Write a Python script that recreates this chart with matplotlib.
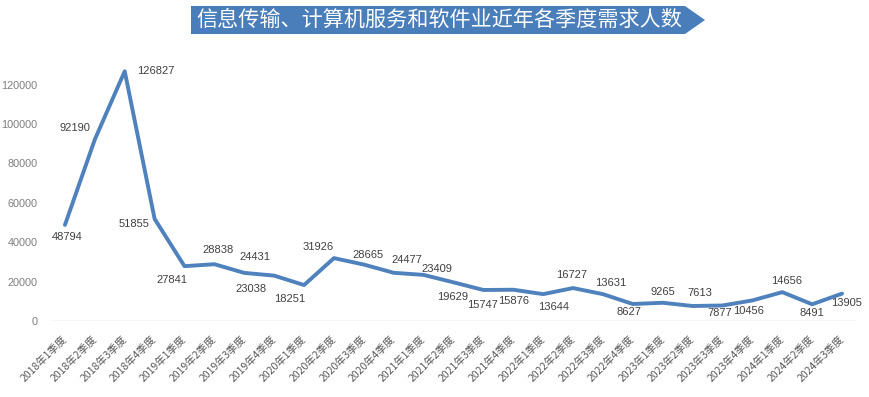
import matplotlib
matplotlib.use('Agg')
import matplotlib.pyplot as plt
from matplotlib.patches import Polygon

plt.rcParams['font.family'] = ['Noto Sans CJK SC', 'DejaVu Sans']

TITLE = '信息传输、计算机服务和软件业近年各季度需求人数'

quarters = [
    '2018年1季度', '2018年2季度', '2018年3季度', '2018年4季度',
    '2019年1季度', '2019年2季度', '2019年3季度', '2019年4季度',
    '2020年1季度', '2020年2季度', '2020年3季度', '2020年4季度',
    '2021年1季度', '2021年2季度', '2021年3季度', '2021年4季度',
    '2022年1季度', '2022年2季度', '2022年3季度', '2022年4季度',
    '2023年1季度', '2023年2季度', '2023年3季度', '2023年4季度',
    '2024年1季度', '2024年2季度', '2024年3季度',
]
demand = [
    48794, 92190, 126827, 51855,
    27841, 28838, 24431, 23038,
    18251, 31926, 28665, 24477,
    23409, 19629, 15747, 15876,
    13644, 16727, 13631, 8627,
    9265, 7613, 7877, 10456,
    14656, 8491, 13905,
]
y_ticks = [0, 20000, 40000, 60000, 80000, 100000, 120000]

# label offsets from each point, in pixels (dx right, dy up)
label_offsets = [
    (2, -12), (-20, 11), (31, 0), (-21, -5),
    (-13, -14), (4, 14), (11, 16), (-23, -13),
    (-14, -14), (-16, 11), (4, 10), (13, 13),
    (13, 6), (-1, -15), (-1, -15), (0, -11),
    (10, -13), (-1, 13), (8, 11), (-4, -8),
    (0, 11), (7, 13), (-3, -8), (-4, -11),
    (4, 11), (0, -9), (4, -9),
]

W, H = 870, 397
fig = plt.figure(figsize=(W / 100, H / 100), dpi=100)
ax = fig.add_axes([50 / W, 1 - 321 / H, 807 / W, (321 - 65) / H])

x = list(range(len(demand)))
ax.plot(x, demand, color='#4f81bd', linewidth=2.8, solid_joinstyle='round',
        solid_capstyle='round', zorder=3)

for xi, v, (dx, dy) in zip(x, demand, label_offsets):
    ax.annotate(str(v), xy=(xi, v), xytext=(dx, dy), textcoords='offset pixels',
                ha='center', va='center', fontsize=8, color='#404040',
                family=['Liberation Sans', 'DejaVu Sans'])

ax.set_xlim(-0.5, len(demand) - 0.5)
ax.set_ylim(0, 130000)
ax.set_yticks(y_ticks)
ax.set_yticklabels([str(t) for t in y_ticks], color='#7f7f7f', fontsize=7.8,
                   family=['Liberation Sans', 'DejaVu Sans'])
ax.set_xticks(x)
ax.set_xticklabels(quarters, rotation=45, ha='right', va='center',
                   rotation_mode='anchor', fontsize=7.5, color='#595959')
ax.tick_params(axis='both', length=0)
ax.tick_params(axis='x', pad=12)
ax.tick_params(axis='y', pad=9)
for s in ax.spines.values():
    s.set_visible(False)
ax.axhline(0, color='#d9d9d9', linewidth=1.0, zorder=1)

# title banner shaped like an arrow
banner = Polygon([(191 / W, 1 - 6 / H), (685 / W, 1 - 6 / H), (705 / W, 1 - 20 / H),
                  (685 / W, 1 - 34 / H), (191 / W, 1 - 34 / H)],
                 closed=True, transform=fig.transFigure, facecolor='#4a7ebb',
                 edgecolor='none')
fig.patches.append(banner)
fig.text(439 / W, 1 - 20 / H, TITLE, ha='center', va='center', fontsize=15.2,
         color='white')

fig.savefig('out.png', dpi=100)
